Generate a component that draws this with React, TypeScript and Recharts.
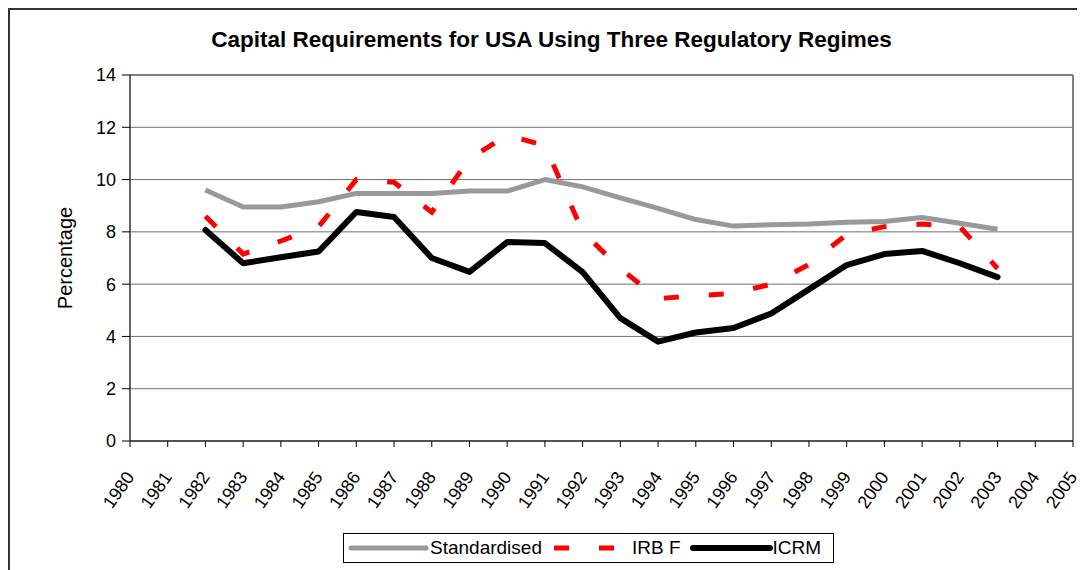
import * as React from "react";
import {
  LineChart,
  Line,
  XAxis,
  YAxis,
  CartesianGrid,
  Legend,
  ReferenceLine,
} from "recharts";

const YEARS = [
  "1980", "1981", "1982", "1983", "1984", "1985", "1986", "1987", "1988",
  "1989", "1990", "1991", "1992", "1993", "1994", "1995", "1996", "1997",
  "1998", "1999", "2000", "2001", "2002", "2003", "2004", "2005",
];

// values from 1982 to 2003
const STANDARDISED = [
  9.6, 8.95, 8.95, 9.15, 9.47, 9.47, 9.47, 9.56, 9.56, 10.0, 9.72,
  9.3, 8.9, 8.47, 8.22, 8.27, 8.3, 8.37, 8.4, 8.55, 8.33, 8.1,
];
const IRB_F = [
  8.6, 7.15, 7.65, 8.2, 10.0, 9.9, 8.75, 10.8, 11.7, 11.3, 8.0,
  6.6, 5.45, 5.55, 5.65, 6.0, 6.75, 7.9, 8.2, 8.3, 8.2, 6.6,
];
const ICRM = [
  8.07, 6.8, 7.03, 7.25, 8.76, 8.57, 7.0, 6.47, 7.61, 7.57, 6.46,
  4.7, 3.8, 4.15, 4.32, 4.88, 5.8, 6.73, 7.15, 7.27, 6.8, 6.27,
];
const FIRST_YEAR = "1982";

const Y_TICKS = [0, 2, 4, 6, 8, 10, 12, 14];

const data = YEARS.map((year, i) => {
  const k = i - YEARS.indexOf(FIRST_YEAR);
  const inRange = k >= 0 && k < STANDARDISED.length;
  return {
    year,
    standardised: inRange ? STANDARDISED[k] : null,
    irbF: inRange ? IRB_F[k] : null,
    icrm: inRange ? ICRM[k] : null,
  };
});

const FONT = "Arial, 'Liberation Sans', sans-serif";

const XTick = ({ x, y, payload }: any) => (
  <g transform={`translate(${x + 5},${y + 28})`}>
    <text
      x={0}
      y={0}
      textAnchor="end"
      transform="rotate(-55)"
      fontSize={18}
      fontFamily={FONT}
      fill="#000"
    >
      {payload.value}
    </text>
  </g>
);

const YTitle = ({ viewBox }: any) => {
  const cx = viewBox.x + 5;
  const cy = viewBox.y + viewBox.height / 2;
  return (
    <text
      x={cx}
      y={cy}
      transform={`rotate(-90, ${cx}, ${cy})`}
      textAnchor="middle"
      dominantBaseline="central"
      fontSize={20}
      fontFamily={FONT}
      fill="#000"
    >
      Percentage
    </text>
  );
};

const LegendBox = () => (
  <div
    style={{
      border: "1px solid #000",
      height: 30,
      display: "flex",
      alignItems: "center",
      fontFamily: FONT,
      fontSize: 19,
      color: "#000",
      background: "#fff",
      boxSizing: "border-box",
    }}
  >
    <svg width={82} height={10} style={{ marginLeft: 4 }}>
      <line x1={3} y1={5} x2={78} y2={5} stroke="#999999" strokeWidth={5} strokeLinecap="round" />
    </svg>
    <span>Standardised</span>
    <svg width={90} height={10}>
      <line x1={12} y1={5} x2={76} y2={5} stroke="#FF0000" strokeWidth={5} strokeDasharray="15 30" />
    </svg>
    <span>IRB F</span>
    <svg width={92} height={10}>
      <line x1={12} y1={5} x2={89} y2={5} stroke="#000" strokeWidth={6} strokeLinecap="round" />
    </svg>
    <span>ICRM</span>
  </div>
);

export default function App() {
  return (
    <div
      style={{
        position: "relative",
        width: 1077,
        height: 562,
        borderTop: "2px solid #333",
        borderLeft: "2px solid #333",
        boxSizing: "border-box",
        overflow: "hidden",
      }}
    >
      <div
        style={{
          position: "absolute",
          left: 0,
          top: 17,
          width: 1083,
          textAlign: "center",
          fontFamily: FONT,
          fontWeight: "bold",
          fontSize: 22.5,
          color: "#000",
        }}
      >
        Capital Requirements for USA Using Three Regulatory Regimes
      </div>
      <LineChart
        width={1075}
        height={560}
        data={data}
        margin={{ top: 65, right: 12, bottom: 5, left: 50 }}
      >
        <CartesianGrid vertical={false} stroke="#707070" strokeOpacity={1} />
        <XAxis
          dataKey="year"
          interval={0}
          height={92}
          tick={<XTick />}
          tickSize={6}
          tickLine={{ stroke: "#000" }}
          axisLine={{ stroke: "#333", strokeWidth: 1.5 }}
        />
        <YAxis
          domain={[0, 14]}
          ticks={Y_TICKS}
          interval={0}
          width={70}
          tickSize={8}
          tickMargin={6}
          tick={{ fill: "#000", fontSize: 18, fontFamily: FONT }}
          tickLine={{ stroke: "#000" }}
          axisLine={{ stroke: "#333", strokeWidth: 1.5 }}
          label={<YTitle />}
        />
        <ReferenceLine x="2005" stroke="#808080" strokeWidth={2} />
        <ReferenceLine y={14} stroke="#808080" strokeWidth={2} />
        <Legend
          content={<LegendBox />}
          wrapperStyle={{ left: 333, width: 491, height: 32 }}
        />
        <Line
          type="linear"
          dataKey="standardised"
          name="Standardised"
          stroke="#999999"
          strokeWidth={5}
          strokeLinejoin="round"
          dot={false}
          activeDot={false}
          isAnimationActive={false}
        />
        <Line
          type="linear"
          dataKey="irbF"
          name="IRB F"
          stroke="#FF0000"
          strokeWidth={5}
          strokeDasharray="15 30"
          dot={false}
          activeDot={false}
          isAnimationActive={false}
        />
        <Line
          type="linear"
          dataKey="icrm"
          name="ICRM"
          stroke="#000000"
          strokeWidth={6}
          strokeLinejoin="round"
          strokeLinecap="round"
          dot={false}
          activeDot={false}
          isAnimationActive={false}
        />
      </LineChart>
    </div>
  );
}
